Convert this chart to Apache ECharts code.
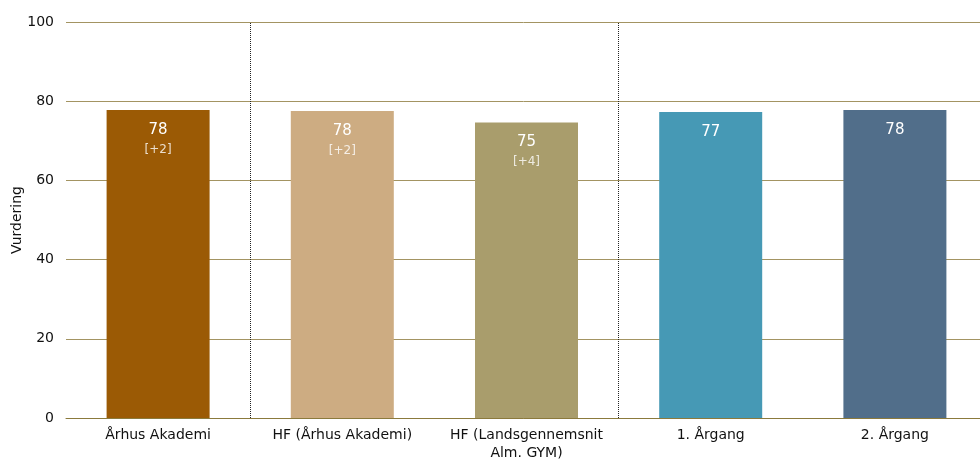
<!DOCTYPE html>
<html><head><meta charset="utf-8">
<script src="https://cdn.jsdelivr.net/npm/echarts@6/dist/echarts.min.js"></script>
<style>html,body{margin:0;padding:0;background:#fff}#c{width:980px;height:461px}</style>
</head><body><div id="c"></div>
<script>
const categories = ['Århus Akademi', 'HF (Århus Akademi)', 'HF (Landsgennemsnit\nAlm. GYM)', '1. Årgang', '2. Årgang'];
const values = [77.8, 77.5, 74.6, 77.3, 77.8];
const shownValues = ['78', '78', '75', '77', '78'];
const changes = ['[+2]', '[+2]', '[+4]', '', ''];
const colors = ['#9b5a05', '#cdac82', '#a99d6c', '#4699b5', '#516e8a'];
const separators = [0.5, 2.5];
const yTicks = { min: 0, max: 100, interval: 20 };

const font = 'Tahoma, "DejaVu Sans", Verdana, sans-serif';
const chart = echarts.init(document.getElementById('c'));
chart.setOption({
  animation: false,
  grid: { left: 66, width: 921, top: 22, bottom: 43, containLabel: false, outerBoundsMode: 'none' },
  xAxis: [{
    type: 'category', data: categories,
    axisLine: { lineStyle: { color: '#8b7a3c', width: 1 } },
    axisTick: { show: false },
    axisLabel: { color: '#111', fontFamily: font, fontSize: 14, lineHeight: 18, margin: 8, interval: 0 }
  }, {
    type: 'value', min: -0.5, max: 4.5, show: false
  }],
  yAxis: {
    type: 'value', min: yTicks.min, max: yTicks.max, interval: yTicks.interval,
    name: 'Vurdering', nameLocation: 'middle', nameGap: 42, nameMoveOverlap: false,
    nameTextStyle: { color: '#111', fontFamily: font, fontSize: 14 },
    axisLine: { show: false }, axisTick: { show: false },
    axisLabel: { color: '#111', fontFamily: font, fontSize: 14, margin: 12 },
    splitLine: { lineStyle: { color: '#a39462', width: 1 } }
  },
  series: [{
    type: 'bar', barWidth: 103,
    data: values.map((v, i) => ({ value: v, itemStyle: { color: colors[i] } })),
    label: {
      show: true, position: 'insideTop', distance: 10,
      formatter: p => changes[p.dataIndex] ? '{a|' + shownValues[p.dataIndex] + '}\n{b|' + changes[p.dataIndex] + '}' : '{a|' + shownValues[p.dataIndex] + '}',
      rich: {
        a: { color: '#fff', fontFamily: font, fontSize: 15, lineHeight: 20 },
        b: { color: 'rgba(255,255,255,0.8)', fontFamily: font, fontSize: 12, lineHeight: 19 }
      }
    }
  }, {
    type: 'line', xAxisIndex: 1, data: [],
    markLine: {
      silent: true, symbol: 'none', label: { show: false },
      lineStyle: { color: '#222', type: [1, 1], width: 1 },
      data: separators.map(s => ({ xAxis: s }))
    }
  }]
});
</script></body></html>
